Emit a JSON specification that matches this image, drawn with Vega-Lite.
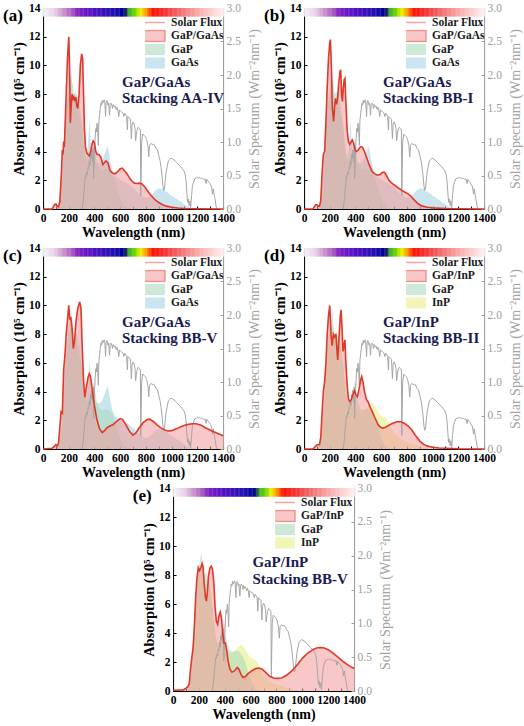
{
"$schema": "https://vega.github.io/schema/vega-lite/v6.json",
"padding": {"left": 2, "top": 1, "right": 0, "bottom": 0},
"config": {
 "font": "Liberation Serif",
 "view": {"stroke": "#c4c4c4"},
 "axis": {"grid": false, "labelFont": "Liberation Serif", "titleFont": "Liberation Serif", "tickSize": -3, "labelPadding": 6, "labelOverlap": false, "labelFlush": false, "domainWidth": 1, "tickWidth": 1},
 "axisBottom": {"domainColor": "#000", "tickColor": "#000", "labelColor": "#000", "labelFontWeight": "bold", "labelFontSize": 11.5, "titleColor": "#000", "titleFontWeight": "bold", "titleFontSize": 14, "titlePadding": 2},
 "axisLeft": {"domainColor": "#000", "tickColor": "#000", "labelColor": "#000", "labelFontWeight": "bold", "labelFontSize": 11.5, "titleColor": "#000", "titleFontWeight": "bold", "titleFontSize": 14.5, "titlePadding": 2},
 "axisRight": {"domainColor": "#9c9c9c", "tickColor": "#9c9c9c", "labelColor": "#9c9c9c", "labelFontWeight": "normal", "labelFontSize": 11.5, "titleColor": "#a3a3a3", "titleFontWeight": "normal", "titleFontSize": 14, "titlePadding": 7, "titleAngle": 270, "titleBaseline": "top"},
 "legend": {"padding": 0, "symbolType": "M-1.9,-0.85H1.9V0.85H-1.9Z", "symbolSize": 169, "clipHeight": 13, "labelFont": "Liberation Serif", "labelFontSize": 11.5, "labelFontWeight": "bold", "labelColor": "#1a1a1a", "rowPadding": 0.5, "labelOffset": 11}
},
"datasets": {
 "solar": [{"w":300,"f":0},{"w":305,"f":0.02},{"w":310,"f":0.08},{"w":315,"f":0.18},{"w":320,"f":0.3},{"w":325,"f":0.4},{"w":330,"f":0.5},{"w":335,"f":0.48},{"w":340,"f":0.55},{"w":345,"f":0.52},{"w":350,"f":0.62},{"w":355,"f":0.6},{"w":360,"f":0.72},{"w":365,"f":0.65},{"w":370,"f":0.82},{"w":375,"f":0.75},{"w":380,"f":0.88},{"w":385,"f":0.7},{"w":390,"f":0.92},{"w":393,"f":0.45},{"w":396,"f":0.6},{"w":400,"f":0.85},{"w":405,"f":1.05},{"w":410,"f":1.2},{"w":415,"f":1.15},{"w":420,"f":1.28},{"w":425,"f":1.15},{"w":430,"f":0.95},{"w":434,"f":1.3},{"w":440,"f":1.42},{"w":445,"f":1.5},{"w":450,"f":1.58},{"w":455,"f":1.55},{"w":460,"f":1.62},{"w":465,"f":1.58},{"w":470,"f":1.6},{"w":475,"f":1.63},{"w":480,"f":1.6},{"w":486,"f":1.38},{"w":490,"f":1.58},{"w":495,"f":1.62},{"w":500,"f":1.6},{"w":505,"f":1.55},{"w":510,"f":1.58},{"w":517,"f":1.4},{"w":522,"f":1.56},{"w":528,"f":1.58},{"w":535,"f":1.55},{"w":540,"f":1.5},{"w":545,"f":1.56},{"w":550,"f":1.54},{"w":555,"f":1.52},{"w":560,"f":1.54},{"w":570,"f":1.48},{"w":575,"f":1.52},{"w":580,"f":1.5},{"w":589,"f":1.38},{"w":595,"f":1.48},{"w":600,"f":1.47},{"w":610,"f":1.45},{"w":620,"f":1.44},{"w":628,"f":1.38},{"w":635,"f":1.43},{"w":645,"f":1.4},{"w":650,"f":1.38},{"w":656,"f":1.18},{"w":660,"f":1.38},{"w":670,"f":1.36},{"w":680,"f":1.34},{"w":687,"f":1.05},{"w":692,"f":1.25},{"w":700,"f":1.3},{"w":708,"f":1.27},{"w":715,"f":1.2},{"w":720,"f":1.02},{"w":726,"f":1.12},{"w":732,"f":1.18},{"w":740,"f":1.22},{"w":750,"f":1.2},{"w":757,"f":1.18},{"w":760,"f":0.2},{"w":763,"f":0.55},{"w":767,"f":1.0},{"w":775,"f":1.12},{"w":785,"f":1.1},{"w":795,"f":1.08},{"w":805,"f":1.04},{"w":815,"f":0.95},{"w":822,"f":0.78},{"w":828,"f":0.95},{"w":840,"f":0.98},{"w":850,"f":0.96},{"w":860,"f":0.97},{"w":870,"f":0.94},{"w":880,"f":0.9},{"w":890,"f":0.88},{"w":900,"f":0.8},{"w":910,"f":0.72},{"w":918,"f":0.62},{"w":925,"f":0.5},{"w":932,"f":0.35},{"w":938,"f":0.28},{"w":944,"f":0.3},{"w":950,"f":0.42},{"w":957,"f":0.55},{"w":965,"f":0.63},{"w":975,"f":0.72},{"w":985,"f":0.74},{"w":995,"f":0.76},{"w":1005,"f":0.75},{"w":1020,"f":0.73},{"w":1035,"f":0.7},{"w":1050,"f":0.67},{"w":1065,"f":0.64},{"w":1080,"f":0.61},{"w":1095,"f":0.57},{"w":1105,"f":0.52},{"w":1112,"f":0.42},{"w":1118,"f":0.25},{"w":1124,"f":0.1},{"w":1130,"f":0.15},{"w":1136,"f":0.05},{"w":1142,"f":0.12},{"w":1148,"f":0.02},{"w":1155,"f":0.2},{"w":1162,"f":0.35},{"w":1170,"f":0.4},{"w":1180,"f":0.45},{"w":1190,"f":0.46},{"w":1200,"f":0.47},{"w":1210,"f":0.46},{"w":1220,"f":0.47},{"w":1230,"f":0.45},{"w":1240,"f":0.46},{"w":1250,"f":0.44},{"w":1260,"f":0.45},{"w":1268,"f":0.38},{"w":1274,"f":0.44},{"w":1280,"f":0.42},{"w":1290,"f":0.4},{"w":1300,"f":0.37},{"w":1310,"f":0.33},{"w":1318,"f":0.22},{"w":1324,"f":0.3},{"w":1332,"f":0.2},{"w":1340,"f":0.12},{"w":1346,"f":0.04},{"w":1352,"f":0}],
 "rainbow": [{"w":0},{"w":10},{"w":20},{"w":30},{"w":40},{"w":50},{"w":60},{"w":70},{"w":80},{"w":90},{"w":100},{"w":110},{"w":120},{"w":130},{"w":140},{"w":150},{"w":160},{"w":170},{"w":180},{"w":190},{"w":200},{"w":210},{"w":220},{"w":230},{"w":240},{"w":250},{"w":260},{"w":270},{"w":280},{"w":290},{"w":300},{"w":310},{"w":320},{"w":330},{"w":340},{"w":350},{"w":360},{"w":370},{"w":380},{"w":390},{"w":400},{"w":410},{"w":420},{"w":430},{"w":440},{"w":450},{"w":460},{"w":470},{"w":480},{"w":490},{"w":500},{"w":510},{"w":520},{"w":530},{"w":540},{"w":550},{"w":560},{"w":570},{"w":580},{"w":590},{"w":600},{"w":610},{"w":620},{"w":630},{"w":640},{"w":650},{"w":660},{"w":670},{"w":680},{"w":690},{"w":700},{"w":710},{"w":720},{"w":730},{"w":740},{"w":750},{"w":760},{"w":770},{"w":780},{"w":790},{"w":800},{"w":810},{"w":820},{"w":830},{"w":840},{"w":850},{"w":860},{"w":870},{"w":880},{"w":890},{"w":900},{"w":910},{"w":920},{"w":930},{"w":940},{"w":950},{"w":960},{"w":970},{"w":980},{"w":990},{"w":1000},{"w":1010},{"w":1020},{"w":1030},{"w":1040},{"w":1050},{"w":1060},{"w":1070},{"w":1080},{"w":1090},{"w":1100},{"w":1110},{"w":1120},{"w":1130},{"w":1140},{"w":1150},{"w":1160},{"w":1170},{"w":1180},{"w":1190},{"w":1200},{"w":1210},{"w":1220},{"w":1230},{"w":1240},{"w":1250},{"w":1260},{"w":1270},{"w":1280},{"w":1290},{"w":1300},{"w":1310},{"w":1320},{"w":1330},{"w":1340},{"w":1350},{"w":1360},{"w":1370},{"w":1380},{"w":1390},{"w":1400}],
 "gap": [{"w":0,"a":0},{"w":110,"a":0},{"w":125,"a":0.4},{"w":140,"a":1.5},{"w":155,"a":3.2},{"w":170,"a":5.5},{"w":185,"a":7.3},{"w":200,"a":8.5},{"w":212,"a":9.2},{"w":220,"a":9.6},{"w":228,"a":8.8},{"w":240,"a":8.0},{"w":255,"a":8.2},{"w":270,"a":7.8},{"w":285,"a":7.2},{"w":300,"a":6.2},{"w":315,"a":4.8},{"w":330,"a":3.6},{"w":345,"a":3.3},{"w":360,"a":3.5},{"w":375,"a":3.9},{"w":390,"a":4.5},{"w":398,"a":4.7},{"w":406,"a":4.0},{"w":420,"a":3.2},{"w":440,"a":2.8},{"w":460,"a":2.7},{"w":490,"a":2.8},{"w":515,"a":2.7},{"w":540,"a":2.4},{"w":565,"a":1.8},{"w":590,"a":1.0},{"w":615,"a":0.45},{"w":640,"a":0.15},{"w":670,"a":0.03},{"w":700,"a":0},{"w":1400,"a":0}],
 "gaas": [{"w":0,"a":0},{"w":110,"a":0},{"w":125,"a":0.3},{"w":140,"a":1.2},{"w":155,"a":3.0},{"w":170,"a":5.5},{"w":185,"a":7.2},{"w":200,"a":8.0},{"w":212,"a":8.8},{"w":222,"a":9.2},{"w":230,"a":8.2},{"w":245,"a":7.6},{"w":260,"a":7.4},{"w":275,"a":6.8},{"w":290,"a":6.3},{"w":305,"a":5.8},{"w":320,"a":4.3},{"w":335,"a":3.5},{"w":348,"a":4.2},{"w":356,"a":5.5},{"w":362,"a":6.3},{"w":368,"a":5.0},{"w":378,"a":3.9},{"w":395,"a":3.5},{"w":420,"a":3.2},{"w":445,"a":3.2},{"w":465,"a":3.5},{"w":482,"a":3.9},{"w":498,"a":4.35},{"w":510,"a":4.1},{"w":522,"a":3.4},{"w":540,"a":2.7},{"w":560,"a":2.3},{"w":590,"a":2.1},{"w":630,"a":1.9},{"w":670,"a":1.7},{"w":710,"a":1.4},{"w":750,"a":1.05},{"w":790,"a":0.8},{"w":820,"a":0.8},{"w":850,"a":1.05},{"w":880,"a":1.32},{"w":905,"a":1.45},{"w":930,"a":1.4},{"w":960,"a":1.2},{"w":990,"a":1.0},{"w":1030,"a":0.75},{"w":1070,"a":0.5},{"w":1110,"a":0.25},{"w":1150,"a":0.08},{"w":1190,"a":0},{"w":1400,"a":0}],
 "inp": [{"w":0,"a":0},{"w":110,"a":0},{"w":125,"a":0.4},{"w":140,"a":1.6},{"w":155,"a":3.5},{"w":170,"a":5.8},{"w":185,"a":7.4},{"w":200,"a":8.3},{"w":215,"a":8.6},{"w":230,"a":8.0},{"w":245,"a":7.6},{"w":260,"a":7.7},{"w":275,"a":7.6},{"w":290,"a":7.0},{"w":305,"a":6.0},{"w":320,"a":4.6},{"w":335,"a":3.6},{"w":350,"a":3.2},{"w":370,"a":3.0},{"w":390,"a":2.9},{"w":410,"a":2.8},{"w":430,"a":2.7},{"w":450,"a":2.6},{"w":470,"a":2.7},{"w":490,"a":2.9},{"w":510,"a":3.1},{"w":530,"a":3.2},{"w":550,"a":3.0},{"w":570,"a":2.7},{"w":590,"a":2.4},{"w":610,"a":2.25},{"w":630,"a":2.2},{"w":650,"a":2.0},{"w":670,"a":1.6},{"w":700,"a":1.1},{"w":740,"a":0.75},{"w":780,"a":0.55},{"w":820,"a":0.42},{"w":860,"a":0.3},{"w":900,"a":0.18},{"w":940,"a":0.08},{"w":980,"a":0.02},{"w":1020,"a":0},{"w":1400,"a":0}],
 "pa": [{"w":0,"a":0},{"w":70,"a":0},{"w":80,"a":0.15},{"w":90,"a":0.3},{"w":100,"a":0.35},{"w":110,"a":0.2},{"w":120,"a":0.15},{"w":130,"a":0.5},{"w":140,"a":2.0},{"w":145,"a":3.0},{"w":150,"a":4.1},{"w":155,"a":3.8},{"w":160,"a":4.7},{"w":165,"a":4.3},{"w":170,"a":5.5},{"w":180,"a":8.0},{"w":190,"a":10.5},{"w":200,"a":12.0},{"w":206,"a":10.0},{"w":212,"a":6.0},{"w":218,"a":7.0},{"w":225,"a":8.0},{"w":232,"a":7.6},{"w":240,"a":7.8},{"w":248,"a":7.5},{"w":255,"a":7.8},{"w":262,"a":7.2},{"w":270,"a":7.0},{"w":280,"a":8.0},{"w":290,"a":10.0},{"w":300,"a":10.8},{"w":308,"a":10.5},{"w":315,"a":8.0},{"w":322,"a":5.5},{"w":330,"a":4.3},{"w":340,"a":3.9},{"w":350,"a":3.8},{"w":360,"a":3.7},{"w":370,"a":4.0},{"w":380,"a":4.5},{"w":390,"a":4.75},{"w":400,"a":4.6},{"w":410,"a":4.0},{"w":420,"a":3.8},{"w":435,"a":3.8},{"w":450,"a":3.6},{"w":465,"a":3.1},{"w":475,"a":3.2},{"w":490,"a":3.35},{"w":505,"a":3.2},{"w":520,"a":2.7},{"w":540,"a":2.5},{"w":560,"a":2.45},{"w":580,"a":2.6},{"w":600,"a":2.8},{"w":615,"a":2.85},{"w":630,"a":2.7},{"w":650,"a":2.5},{"w":670,"a":2.2},{"w":690,"a":1.95},{"w":710,"a":1.8},{"w":730,"a":1.78},{"w":750,"a":1.8},{"w":770,"a":1.75},{"w":790,"a":1.55},{"w":810,"a":1.3},{"w":830,"a":1.05},{"w":850,"a":0.85},{"w":870,"a":0.65},{"w":900,"a":0.45},{"w":930,"a":0.3},{"w":960,"a":0.2},{"w":1000,"a":0.12},{"w":1050,"a":0.07},{"w":1100,"a":0.04},{"w":1200,"a":0.02},{"w":1400,"a":0}],
 "pb": [{"w":0,"a":0},{"w":70,"a":0},{"w":80,"a":0.15},{"w":90,"a":0.3},{"w":100,"a":0.3},{"w":110,"a":0.2},{"w":120,"a":0.2},{"w":130,"a":0.6},{"w":140,"a":2.5},{"w":150,"a":3.8},{"w":160,"a":4.0},{"w":170,"a":6.0},{"w":180,"a":8.5},{"w":190,"a":10.5},{"w":200,"a":11.6},{"w":205,"a":11.8},{"w":212,"a":10.0},{"w":220,"a":7.0},{"w":230,"a":6.1},{"w":238,"a":7.2},{"w":245,"a":7.7},{"w":252,"a":7.3},{"w":260,"a":7.6},{"w":270,"a":8.8},{"w":280,"a":9.6},{"w":285,"a":9.7},{"w":292,"a":8.0},{"w":298,"a":7.5},{"w":305,"a":8.4},{"w":312,"a":9.0},{"w":318,"a":9.1},{"w":325,"a":7.5},{"w":335,"a":5.5},{"w":345,"a":4.7},{"w":355,"a":4.5},{"w":365,"a":4.65},{"w":375,"a":4.8},{"w":385,"a":4.6},{"w":395,"a":4.2},{"w":405,"a":4.0},{"w":420,"a":4.1},{"w":435,"a":4.3},{"w":445,"a":4.35},{"w":455,"a":4.3},{"w":470,"a":4.0},{"w":490,"a":3.5},{"w":510,"a":3.0},{"w":530,"a":2.6},{"w":550,"a":2.45},{"w":570,"a":2.35},{"w":590,"a":2.4},{"w":610,"a":2.55},{"w":625,"a":2.55},{"w":640,"a":2.35},{"w":660,"a":2.0},{"w":690,"a":1.75},{"w":720,"a":1.55},{"w":760,"a":1.3},{"w":800,"a":1.1},{"w":830,"a":0.9},{"w":860,"a":0.6},{"w":890,"a":0.35},{"w":920,"a":0.2},{"w":960,"a":0.12},{"w":1000,"a":0.08},{"w":1100,"a":0.04},{"w":1200,"a":0.02},{"w":1400,"a":0}],
 "pc": [{"w":0,"a":0},{"w":70,"a":0.05},{"w":90,"a":0.2},{"w":100,"a":0.3},{"w":110,"a":0.2},{"w":120,"a":0.4},{"w":130,"a":1.5},{"w":140,"a":2.6},{"w":150,"a":2.5},{"w":160,"a":5.5},{"w":170,"a":6.5},{"w":180,"a":8.0},{"w":190,"a":9.0},{"w":200,"a":10.0},{"w":208,"a":9.0},{"w":215,"a":9.2},{"w":225,"a":8.5},{"w":235,"a":7.0},{"w":245,"a":7.5},{"w":255,"a":8.8},{"w":270,"a":9.8},{"w":285,"a":10.25},{"w":295,"a":9.8},{"w":305,"a":7.0},{"w":315,"a":4.8},{"w":325,"a":3.6},{"w":335,"a":4.2},{"w":350,"a":5.0},{"w":360,"a":5.25},{"w":370,"a":5.0},{"w":385,"a":4.0},{"w":400,"a":3.0},{"w":420,"a":2.0},{"w":440,"a":1.4},{"w":460,"a":1.15},{"w":480,"a":1.3},{"w":500,"a":1.5},{"w":520,"a":1.6},{"w":545,"a":1.7},{"w":570,"a":1.9},{"w":600,"a":2.12},{"w":620,"a":2.05},{"w":650,"a":1.6},{"w":675,"a":1.2},{"w":700,"a":0.97},{"w":720,"a":1.1},{"w":750,"a":1.5},{"w":780,"a":1.85},{"w":810,"a":2.05},{"w":830,"a":2.08},{"w":860,"a":1.9},{"w":890,"a":1.65},{"w":920,"a":1.45},{"w":950,"a":1.3},{"w":975,"a":1.25},{"w":1000,"a":1.28},{"w":1040,"a":1.42},{"w":1080,"a":1.58},{"w":1120,"a":1.7},{"w":1160,"a":1.76},{"w":1190,"a":1.76},{"w":1230,"a":1.65},{"w":1270,"a":1.45},{"w":1310,"a":1.27},{"w":1350,"a":1.12},{"w":1400,"a":0.93}],
 "pd": [{"w":0,"a":0},{"w":70,"a":0},{"w":80,"a":0.1},{"w":100,"a":0.3},{"w":120,"a":0.3},{"w":130,"a":0.8},{"w":140,"a":2.5},{"w":150,"a":4.0},{"w":160,"a":4.7},{"w":170,"a":6.0},{"w":180,"a":8.0},{"w":190,"a":9.3},{"w":200,"a":10.0},{"w":210,"a":8.0},{"w":218,"a":7.2},{"w":228,"a":8.0},{"w":238,"a":7.8},{"w":248,"a":8.0},{"w":255,"a":7.0},{"w":262,"a":6.2},{"w":272,"a":7.8},{"w":282,"a":9.3},{"w":288,"a":9.7},{"w":295,"a":8.5},{"w":303,"a":6.8},{"w":310,"a":7.2},{"w":318,"a":7.6},{"w":325,"a":6.0},{"w":335,"a":4.5},{"w":345,"a":3.5},{"w":355,"a":3.3},{"w":365,"a":3.4},{"w":380,"a":3.8},{"w":392,"a":4.05},{"w":402,"a":3.8},{"w":415,"a":3.65},{"w":428,"a":4.2},{"w":440,"a":4.8},{"w":448,"a":5.05},{"w":458,"a":4.7},{"w":470,"a":4.0},{"w":485,"a":3.45},{"w":500,"a":3.25},{"w":515,"a":2.9},{"w":530,"a":2.6},{"w":545,"a":2.3},{"w":560,"a":2.0},{"w":575,"a":1.7},{"w":590,"a":1.55},{"w":610,"a":1.45},{"w":630,"a":1.5},{"w":660,"a":1.65},{"w":690,"a":1.8},{"w":720,"a":1.9},{"w":750,"a":1.9},{"w":780,"a":1.8},{"w":810,"a":1.6},{"w":840,"a":1.3},{"w":870,"a":0.9},{"w":900,"a":0.55},{"w":930,"a":0.32},{"w":960,"a":0.2},{"w":1000,"a":0.12},{"w":1050,"a":0.07},{"w":1100,"a":0.05},{"w":1200,"a":0.02},{"w":1400,"a":0}],
 "pe": [{"w":0,"a":0.05},{"w":80,"a":0.08},{"w":100,"a":0.2},{"w":115,"a":0.3},{"w":125,"a":0.5},{"w":135,"a":1.5},{"w":145,"a":2.3},{"w":155,"a":3.0},{"w":165,"a":4.5},{"w":175,"a":6.5},{"w":185,"a":7.8},{"w":195,"a":8.5},{"w":205,"a":8.3},{"w":215,"a":8.5},{"w":225,"a":8.8},{"w":232,"a":8.6},{"w":240,"a":7.5},{"w":250,"a":6.5},{"w":258,"a":6.2},{"w":265,"a":6.8},{"w":275,"a":8.0},{"w":285,"a":8.5},{"w":295,"a":8.6},{"w":305,"a":8.4},{"w":315,"a":7.5},{"w":325,"a":5.8},{"w":335,"a":4.8},{"w":345,"a":4.6},{"w":355,"a":5.2},{"w":365,"a":5.45},{"w":375,"a":5.0},{"w":385,"a":3.9},{"w":395,"a":3.3},{"w":405,"a":3.3},{"w":415,"a":2.8},{"w":425,"a":2.1},{"w":440,"a":1.5},{"w":455,"a":1.3},{"w":470,"a":1.35},{"w":485,"a":1.5},{"w":497,"a":1.62},{"w":510,"a":1.5},{"w":525,"a":1.15},{"w":540,"a":0.95},{"w":560,"a":1.0},{"w":580,"a":1.2},{"w":610,"a":1.4},{"w":640,"a":1.55},{"w":665,"a":1.58},{"w":690,"a":1.5},{"w":720,"a":1.25},{"w":750,"a":1.0},{"w":780,"a":0.9},{"w":810,"a":0.87},{"w":840,"a":0.9},{"w":880,"a":1.1},{"w":920,"a":1.4},{"w":960,"a":1.8},{"w":1000,"a":2.25},{"w":1040,"a":2.6},{"w":1080,"a":2.85},{"w":1110,"a":2.97},{"w":1140,"a":3.0},{"w":1170,"a":2.97},{"w":1200,"a":2.85},{"w":1240,"a":2.6},{"w":1280,"a":2.3},{"w":1320,"a":2.0},{"w":1360,"a":1.75},{"w":1400,"a":1.55}]
},
"vconcat": [
 {"hconcat": [
  {"width": 180, "height": 201,
   "layer": [
    {"layer": [
     {"data": {"name": "gaas"}, "mark": {"type": "area", "opacity": 0.55}, "encoding": {
       "x": {"field": "w", "type": "quantitative", "scale": {"domain": [0,1400], "nice": false}, "axis": {"values": [0,100,200,300,400,500,600,700,800,900,1000,1100,1200,1300,1400], "format": "d", "labelOverlap": false, "labelExpr": "datum.value % 200 === 0 ? datum.label : ''"}, "title": "Wavelength (nm)"},
       "y": {"field": "a", "type": "quantitative", "scale": {"domain": [0,14], "nice": false}, "axis": {"orient": "left", "values": [0,2,4,6,8,10,12,14], "labelOverlap": false}, "title": "Absorption  (10⁵ cm⁻¹)"},
       "fill": {"datum": "GaAs", "type": "nominal", "scale": {"domain": ["Solar Flux","GaP/GaAs","GaP","GaAs"], "range": ["#ffffff","#f29a9a","#a8d8b8","#9fd0e3"]},
        "legend": {"title": null, "orient": "none", "legendX": 102, "legendY": 8, "encoding": {"symbols": {"shape": {"value": {"expr": "datum.value === 'Solar Flux' ? 'M-1.9,0H1.9' : 'M-1.9,-0.85H1.9V0.85H-1.9Z'"}}, "stroke": {"value": {"expr": "datum.value === 'Solar Flux' ? '#e8574c' : indexof(datum.value, '/') >= 0 ? '#e0392b' : 'transparent'"}}, "strokeWidth": {"value": 1.5}}}}}}},
     {"data": {"name": "gap"}, "mark": {"type": "area", "opacity": 0.55}, "encoding": {
       "x": {"field": "w", "type": "quantitative", "scale": {"domain": [0,1400], "nice": false}, "axis": {"values": [0,100,200,300,400,500,600,700,800,900,1000,1100,1200,1300,1400], "format": "d", "labelOverlap": false, "labelExpr": "datum.value % 200 === 0 ? datum.label : ''"}, "title": "Wavelength (nm)"},
       "y": {"field": "a", "type": "quantitative", "scale": {"domain": [0,14], "nice": false}, "axis": {"orient": "left", "values": [0,2,4,6,8,10,12,14], "labelOverlap": false}, "title": "Absorption  (10⁵ cm⁻¹)"},
       "fill": {"datum": "GaP", "type": "nominal"}}},
     {"data": {"name": "pa"}, "mark": {"type": "area", "opacity": 0.55}, "encoding": {
       "x": {"field": "w", "type": "quantitative", "scale": {"domain": [0,1400], "nice": false}, "axis": {"values": [0,100,200,300,400,500,600,700,800,900,1000,1100,1200,1300,1400], "format": "d", "labelOverlap": false, "labelExpr": "datum.value % 200 === 0 ? datum.label : ''"}, "title": "Wavelength (nm)"},
       "y": {"field": "a", "type": "quantitative", "scale": {"domain": [0,14], "nice": false}, "axis": {"orient": "left", "values": [0,2,4,6,8,10,12,14], "labelOverlap": false}, "title": "Absorption  (10⁵ cm⁻¹)"},
       "fill": {"datum": "GaP/GaAs", "type": "nominal"}}}
    ]},
    {"data": {"name": "solar"}, "mark": {"type": "line", "color": "#a6a6a6", "strokeWidth": 1}, "encoding": {
      "x": {"field": "w", "type": "quantitative", "scale": {"domain": [0,1400], "nice": false}, "axis": {"values": [0,100,200,300,400,500,600,700,800,900,1000,1100,1200,1300,1400], "format": "d", "labelOverlap": false, "labelExpr": "datum.value % 200 === 0 ? datum.label : ''"}, "title": "Wavelength (nm)"},
      "y": {"field": "f", "type": "quantitative", "scale": {"domain": [0,3], "nice": false}, "axis": {"orient": "right", "values": [0,0.5,1,1.5,2,2.5,3], "format": ".1f", "labelOverlap": false}, "title": "Solar Spectrum (Wm⁻²nm⁻¹)"}}},
    {"layer": [
     {"data": {"name": "pa"}, "mark": {"type": "line", "color": "#e0392b", "strokeWidth": 1.6}, "encoding": {
       "x": {"field": "w", "type": "quantitative", "scale": {"domain": [0,1400], "nice": false}, "axis": {"values": [0,100,200,300,400,500,600,700,800,900,1000,1100,1200,1300,1400], "format": "d", "labelOverlap": false, "labelExpr": "datum.value % 200 === 0 ? datum.label : ''"}, "title": "Wavelength (nm)"},
       "y": {"field": "a", "type": "quantitative", "scale": {"domain": [0,14], "nice": false}, "axis": null}}},
     {"data": {"name": "rainbow"}, "mark": {"type": "rule", "strokeWidth": 1.6}, "encoding": {
       "x": {"field": "w", "type": "quantitative", "scale": {"domain": [0,1400], "nice": false}, "axis": {"values": [0,100,200,300,400,500,600,700,800,900,1000,1100,1200,1300,1400], "format": "d", "labelOverlap": false, "labelExpr": "datum.value % 200 === 0 ? datum.label : ''"}, "title": "Wavelength (nm)"},
       "y": {"datum": 13.4, "type": "quantitative", "axis": null},
       "y2": {"datum": 14},
       "color": {"field": "w", "type": "quantitative", "legend": null, "scale": {"domain": [0,90,142,219,271,400,554,619,645,670,709,760,807,851,941,1070,1199,1400], "range": ["#f8f4f8","#e8d0e8","#d0a0d0","#b060c0","#8020c0","#5010c8","#2010b0","#0000a0","#102050","#40b030","#60d000","#f0f000","#ff9000","#ff1000","#f83030","#f07070","#f8a8a8","#fff0f0"], "interpolate": "rgb"}}}},
     {"data": {"values": [{}]}, "mark": {"type": "text", "text": ["GaP/GaAs","Stacking AA-IV"], "font": "Liberation Serif", "fontSize": 15, "fontWeight": "bold", "color": "#1b1b50", "align": "left", "baseline": "top", "lineHeight": 16.5}, "encoding": {
       "x": {"datum": 614, "type": "quantitative", "scale": {"domain": [0,1400], "nice": false}, "axis": {"values": [0,100,200,300,400,500,600,700,800,900,1000,1100,1200,1300,1400], "format": "d", "labelOverlap": false, "labelExpr": "datum.value % 200 === 0 ? datum.label : ''"}, "title": "Wavelength (nm)"}, "y": {"datum": 9.35, "type": "quantitative", "axis": null}}},
     {"data": {"values": [{}]}, "mark": {"type": "text", "text": "(a)", "font": "Liberation Serif", "fontSize": 17, "fontWeight": "bold", "color": "#000", "align": "left", "baseline": "middle"}, "encoding": {
       "x": {"datum": -311, "type": "quantitative", "scale": {"domain": [0,1400], "nice": false}, "axis": {"values": [0,100,200,300,400,500,600,700,800,900,1000,1100,1200,1300,1400], "format": "d", "labelOverlap": false, "labelExpr": "datum.value % 200 === 0 ? datum.label : ''"}, "title": "Wavelength (nm)"}, "y": {"datum": 13.42, "type": "quantitative", "axis": null}}}
    ]}
   ],
   "resolve": {"scale": {"y": "independent"}}},
  {"width": 180, "height": 201,
   "layer": [
    {"layer": [
     {"data": {"name": "gaas"}, "mark": {"type": "area", "opacity": 0.55}, "encoding": {
       "x": {"field": "w", "type": "quantitative", "scale": {"domain": [0,1400], "nice": false}, "axis": {"values": [0,100,200,300,400,500,600,700,800,900,1000,1100,1200,1300,1400], "format": "d", "labelOverlap": false, "labelExpr": "datum.value % 200 === 0 ? datum.label : ''"}, "title": "Wavelength (nm)"},
       "y": {"field": "a", "type": "quantitative", "scale": {"domain": [0,14], "nice": false}, "axis": {"orient": "left", "values": [0,2,4,6,8,10,12,14], "labelOverlap": false}, "title": "Absorption  (10⁵ cm⁻¹)"},
       "fill": {"datum": "GaAs", "type": "nominal", "scale": {"domain": ["Solar Flux","GaP/GaAs","GaP","GaAs"], "range": ["#ffffff","#f29a9a","#a8d8b8","#9fd0e3"]},
        "legend": {"title": null, "orient": "none", "legendX": 102, "legendY": 8, "encoding": {"symbols": {"shape": {"value": {"expr": "datum.value === 'Solar Flux' ? 'M-1.9,0H1.9' : 'M-1.9,-0.85H1.9V0.85H-1.9Z'"}}, "stroke": {"value": {"expr": "datum.value === 'Solar Flux' ? '#e8574c' : indexof(datum.value, '/') >= 0 ? '#e0392b' : 'transparent'"}}, "strokeWidth": {"value": 1.5}}}}}}},
     {"data": {"name": "gap"}, "mark": {"type": "area", "opacity": 0.55}, "encoding": {
       "x": {"field": "w", "type": "quantitative", "scale": {"domain": [0,1400], "nice": false}, "axis": {"values": [0,100,200,300,400,500,600,700,800,900,1000,1100,1200,1300,1400], "format": "d", "labelOverlap": false, "labelExpr": "datum.value % 200 === 0 ? datum.label : ''"}, "title": "Wavelength (nm)"},
       "y": {"field": "a", "type": "quantitative", "scale": {"domain": [0,14], "nice": false}, "axis": {"orient": "left", "values": [0,2,4,6,8,10,12,14], "labelOverlap": false}, "title": "Absorption  (10⁵ cm⁻¹)"},
       "fill": {"datum": "GaP", "type": "nominal"}}},
     {"data": {"name": "pb"}, "mark": {"type": "area", "opacity": 0.55}, "encoding": {
       "x": {"field": "w", "type": "quantitative", "scale": {"domain": [0,1400], "nice": false}, "axis": {"values": [0,100,200,300,400,500,600,700,800,900,1000,1100,1200,1300,1400], "format": "d", "labelOverlap": false, "labelExpr": "datum.value % 200 === 0 ? datum.label : ''"}, "title": "Wavelength (nm)"},
       "y": {"field": "a", "type": "quantitative", "scale": {"domain": [0,14], "nice": false}, "axis": {"orient": "left", "values": [0,2,4,6,8,10,12,14], "labelOverlap": false}, "title": "Absorption  (10⁵ cm⁻¹)"},
       "fill": {"datum": "GaP/GaAs", "type": "nominal"}}}
    ]},
    {"data": {"name": "solar"}, "mark": {"type": "line", "color": "#a6a6a6", "strokeWidth": 1}, "encoding": {
      "x": {"field": "w", "type": "quantitative", "scale": {"domain": [0,1400], "nice": false}, "axis": {"values": [0,100,200,300,400,500,600,700,800,900,1000,1100,1200,1300,1400], "format": "d", "labelOverlap": false, "labelExpr": "datum.value % 200 === 0 ? datum.label : ''"}, "title": "Wavelength (nm)"},
      "y": {"field": "f", "type": "quantitative", "scale": {"domain": [0,3], "nice": false}, "axis": {"orient": "right", "values": [0,0.5,1,1.5,2,2.5,3], "format": ".1f", "labelOverlap": false}, "title": "Solar Spectrum (Wm⁻²nm⁻¹)"}}},
    {"layer": [
     {"data": {"name": "pb"}, "mark": {"type": "line", "color": "#e0392b", "strokeWidth": 1.6}, "encoding": {
       "x": {"field": "w", "type": "quantitative", "scale": {"domain": [0,1400], "nice": false}, "axis": {"values": [0,100,200,300,400,500,600,700,800,900,1000,1100,1200,1300,1400], "format": "d", "labelOverlap": false, "labelExpr": "datum.value % 200 === 0 ? datum.label : ''"}, "title": "Wavelength (nm)"},
       "y": {"field": "a", "type": "quantitative", "scale": {"domain": [0,14], "nice": false}, "axis": null}}},
     {"data": {"name": "rainbow"}, "mark": {"type": "rule", "strokeWidth": 1.6}, "encoding": {
       "x": {"field": "w", "type": "quantitative", "scale": {"domain": [0,1400], "nice": false}, "axis": {"values": [0,100,200,300,400,500,600,700,800,900,1000,1100,1200,1300,1400], "format": "d", "labelOverlap": false, "labelExpr": "datum.value % 200 === 0 ? datum.label : ''"}, "title": "Wavelength (nm)"},
       "y": {"datum": 13.4, "type": "quantitative", "axis": null},
       "y2": {"datum": 14},
       "color": {"field": "w", "type": "quantitative", "legend": null, "scale": {"domain": [0,90,142,219,271,400,554,619,645,670,709,760,807,851,941,1070,1199,1400], "range": ["#f8f4f8","#e8d0e8","#d0a0d0","#b060c0","#8020c0","#5010c8","#2010b0","#0000a0","#102050","#40b030","#60d000","#f0f000","#ff9000","#ff1000","#f83030","#f07070","#f8a8a8","#fff0f0"], "interpolate": "rgb"}}}},
     {"data": {"values": [{}]}, "mark": {"type": "text", "text": ["GaP/GaAs","Stacking BB-I"], "font": "Liberation Serif", "fontSize": 15, "fontWeight": "bold", "color": "#1b1b50", "align": "left", "baseline": "top", "lineHeight": 16.5}, "encoding": {
       "x": {"datum": 614, "type": "quantitative", "scale": {"domain": [0,1400], "nice": false}, "axis": {"values": [0,100,200,300,400,500,600,700,800,900,1000,1100,1200,1300,1400], "format": "d", "labelOverlap": false, "labelExpr": "datum.value % 200 === 0 ? datum.label : ''"}, "title": "Wavelength (nm)"}, "y": {"datum": 9.35, "type": "quantitative", "axis": null}}},
     {"data": {"values": [{}]}, "mark": {"type": "text", "text": "(b)", "font": "Liberation Serif", "fontSize": 17, "fontWeight": "bold", "color": "#000", "align": "left", "baseline": "middle"}, "encoding": {
       "x": {"datum": -311, "type": "quantitative", "scale": {"domain": [0,1400], "nice": false}, "axis": {"values": [0,100,200,300,400,500,600,700,800,900,1000,1100,1200,1300,1400], "format": "d", "labelOverlap": false, "labelExpr": "datum.value % 200 === 0 ? datum.label : ''"}, "title": "Wavelength (nm)"}, "y": {"datum": 13.42, "type": "quantitative", "axis": null}}}
    ]}
   ],
   "resolve": {"scale": {"y": "independent"}}}
 ], "spacing": 1, "resolve": {"scale": {"fill": "independent"}, "legend": {"fill": "independent"}}},
 {"hconcat": [
  {"width": 180, "height": 201,
   "layer": [
    {"layer": [
     {"data": {"name": "gaas"}, "mark": {"type": "area", "opacity": 0.55}, "encoding": {
       "x": {"field": "w", "type": "quantitative", "scale": {"domain": [0,1400], "nice": false}, "axis": {"values": [0,100,200,300,400,500,600,700,800,900,1000,1100,1200,1300,1400], "format": "d", "labelOverlap": false, "labelExpr": "datum.value % 200 === 0 ? datum.label : ''"}, "title": "Wavelength (nm)"},
       "y": {"field": "a", "type": "quantitative", "scale": {"domain": [0,14], "nice": false}, "axis": {"orient": "left", "values": [0,2,4,6,8,10,12,14], "labelOverlap": false}, "title": "Absorption  (10⁵ cm⁻¹)"},
       "fill": {"datum": "GaAs", "type": "nominal", "scale": {"domain": ["Solar Flux","GaP/GaAs","GaP","GaAs"], "range": ["#ffffff","#f29a9a","#a8d8b8","#9fd0e3"]},
        "legend": {"title": null, "orient": "none", "legendX": 102, "legendY": 8, "encoding": {"symbols": {"shape": {"value": {"expr": "datum.value === 'Solar Flux' ? 'M-1.9,0H1.9' : 'M-1.9,-0.85H1.9V0.85H-1.9Z'"}}, "stroke": {"value": {"expr": "datum.value === 'Solar Flux' ? '#e8574c' : indexof(datum.value, '/') >= 0 ? '#e0392b' : 'transparent'"}}, "strokeWidth": {"value": 1.5}}}}}}},
     {"data": {"name": "gap"}, "mark": {"type": "area", "opacity": 0.55}, "encoding": {
       "x": {"field": "w", "type": "quantitative", "scale": {"domain": [0,1400], "nice": false}, "axis": {"values": [0,100,200,300,400,500,600,700,800,900,1000,1100,1200,1300,1400], "format": "d", "labelOverlap": false, "labelExpr": "datum.value % 200 === 0 ? datum.label : ''"}, "title": "Wavelength (nm)"},
       "y": {"field": "a", "type": "quantitative", "scale": {"domain": [0,14], "nice": false}, "axis": {"orient": "left", "values": [0,2,4,6,8,10,12,14], "labelOverlap": false}, "title": "Absorption  (10⁵ cm⁻¹)"},
       "fill": {"datum": "GaP", "type": "nominal"}}},
     {"data": {"name": "pc"}, "mark": {"type": "area", "opacity": 0.55}, "encoding": {
       "x": {"field": "w", "type": "quantitative", "scale": {"domain": [0,1400], "nice": false}, "axis": {"values": [0,100,200,300,400,500,600,700,800,900,1000,1100,1200,1300,1400], "format": "d", "labelOverlap": false, "labelExpr": "datum.value % 200 === 0 ? datum.label : ''"}, "title": "Wavelength (nm)"},
       "y": {"field": "a", "type": "quantitative", "scale": {"domain": [0,14], "nice": false}, "axis": {"orient": "left", "values": [0,2,4,6,8,10,12,14], "labelOverlap": false}, "title": "Absorption  (10⁵ cm⁻¹)"},
       "fill": {"datum": "GaP/GaAs", "type": "nominal"}}}
    ]},
    {"data": {"name": "solar"}, "mark": {"type": "line", "color": "#a6a6a6", "strokeWidth": 1}, "encoding": {
      "x": {"field": "w", "type": "quantitative", "scale": {"domain": [0,1400], "nice": false}, "axis": {"values": [0,100,200,300,400,500,600,700,800,900,1000,1100,1200,1300,1400], "format": "d", "labelOverlap": false, "labelExpr": "datum.value % 200 === 0 ? datum.label : ''"}, "title": "Wavelength (nm)"},
      "y": {"field": "f", "type": "quantitative", "scale": {"domain": [0,3], "nice": false}, "axis": {"orient": "right", "values": [0,0.5,1,1.5,2,2.5,3], "format": ".1f", "labelOverlap": false}, "title": "Solar Spectrum (Wm⁻²nm⁻¹)"}}},
    {"layer": [
     {"data": {"name": "pc"}, "mark": {"type": "line", "color": "#e0392b", "strokeWidth": 1.6}, "encoding": {
       "x": {"field": "w", "type": "quantitative", "scale": {"domain": [0,1400], "nice": false}, "axis": {"values": [0,100,200,300,400,500,600,700,800,900,1000,1100,1200,1300,1400], "format": "d", "labelOverlap": false, "labelExpr": "datum.value % 200 === 0 ? datum.label : ''"}, "title": "Wavelength (nm)"},
       "y": {"field": "a", "type": "quantitative", "scale": {"domain": [0,14], "nice": false}, "axis": null}}},
     {"data": {"name": "rainbow"}, "mark": {"type": "rule", "strokeWidth": 1.6}, "encoding": {
       "x": {"field": "w", "type": "quantitative", "scale": {"domain": [0,1400], "nice": false}, "axis": {"values": [0,100,200,300,400,500,600,700,800,900,1000,1100,1200,1300,1400], "format": "d", "labelOverlap": false, "labelExpr": "datum.value % 200 === 0 ? datum.label : ''"}, "title": "Wavelength (nm)"},
       "y": {"datum": 13.4, "type": "quantitative", "axis": null},
       "y2": {"datum": 14},
       "color": {"field": "w", "type": "quantitative", "legend": null, "scale": {"domain": [0,90,142,219,271,400,554,619,645,670,709,760,807,851,941,1070,1199,1400], "range": ["#f8f4f8","#e8d0e8","#d0a0d0","#b060c0","#8020c0","#5010c8","#2010b0","#0000a0","#102050","#40b030","#60d000","#f0f000","#ff9000","#ff1000","#f83030","#f07070","#f8a8a8","#fff0f0"], "interpolate": "rgb"}}}},
     {"data": {"values": [{}]}, "mark": {"type": "text", "text": ["GaP/GaAs","Stacking BB-V"], "font": "Liberation Serif", "fontSize": 15, "fontWeight": "bold", "color": "#1b1b50", "align": "left", "baseline": "top", "lineHeight": 16.5}, "encoding": {
       "x": {"datum": 614, "type": "quantitative", "scale": {"domain": [0,1400], "nice": false}, "axis": {"values": [0,100,200,300,400,500,600,700,800,900,1000,1100,1200,1300,1400], "format": "d", "labelOverlap": false, "labelExpr": "datum.value % 200 === 0 ? datum.label : ''"}, "title": "Wavelength (nm)"}, "y": {"datum": 9.35, "type": "quantitative", "axis": null}}},
     {"data": {"values": [{}]}, "mark": {"type": "text", "text": "(c)", "font": "Liberation Serif", "fontSize": 17, "fontWeight": "bold", "color": "#000", "align": "left", "baseline": "middle"}, "encoding": {
       "x": {"datum": -311, "type": "quantitative", "scale": {"domain": [0,1400], "nice": false}, "axis": {"values": [0,100,200,300,400,500,600,700,800,900,1000,1100,1200,1300,1400], "format": "d", "labelOverlap": false, "labelExpr": "datum.value % 200 === 0 ? datum.label : ''"}, "title": "Wavelength (nm)"}, "y": {"datum": 13.42, "type": "quantitative", "axis": null}}}
    ]}
   ],
   "resolve": {"scale": {"y": "independent"}}},
  {"width": 180, "height": 201,
   "layer": [
    {"layer": [
     {"data": {"name": "inp"}, "mark": {"type": "area", "opacity": 0.55}, "encoding": {
       "x": {"field": "w", "type": "quantitative", "scale": {"domain": [0,1400], "nice": false}, "axis": {"values": [0,100,200,300,400,500,600,700,800,900,1000,1100,1200,1300,1400], "format": "d", "labelOverlap": false, "labelExpr": "datum.value % 200 === 0 ? datum.label : ''"}, "title": "Wavelength (nm)"},
       "y": {"field": "a", "type": "quantitative", "scale": {"domain": [0,14], "nice": false}, "axis": {"orient": "left", "values": [0,2,4,6,8,10,12,14], "labelOverlap": false}, "title": "Absorption  (10⁵ cm⁻¹)"},
       "fill": {"datum": "InP", "type": "nominal", "scale": {"domain": ["Solar Flux","GaP/InP","GaP","InP"], "range": ["#ffffff","#f29a9a","#a8d8b8","#e3ee7e"]},
        "legend": {"title": null, "orient": "none", "legendX": 102, "legendY": 8, "encoding": {"symbols": {"shape": {"value": {"expr": "datum.value === 'Solar Flux' ? 'M-1.9,0H1.9' : 'M-1.9,-0.85H1.9V0.85H-1.9Z'"}}, "stroke": {"value": {"expr": "datum.value === 'Solar Flux' ? '#e8574c' : indexof(datum.value, '/') >= 0 ? '#e0392b' : 'transparent'"}}, "strokeWidth": {"value": 1.5}}}}}}},
     {"data": {"name": "gap"}, "mark": {"type": "area", "opacity": 0.55}, "encoding": {
       "x": {"field": "w", "type": "quantitative", "scale": {"domain": [0,1400], "nice": false}, "axis": {"values": [0,100,200,300,400,500,600,700,800,900,1000,1100,1200,1300,1400], "format": "d", "labelOverlap": false, "labelExpr": "datum.value % 200 === 0 ? datum.label : ''"}, "title": "Wavelength (nm)"},
       "y": {"field": "a", "type": "quantitative", "scale": {"domain": [0,14], "nice": false}, "axis": {"orient": "left", "values": [0,2,4,6,8,10,12,14], "labelOverlap": false}, "title": "Absorption  (10⁵ cm⁻¹)"},
       "fill": {"datum": "GaP", "type": "nominal"}}},
     {"data": {"name": "pd"}, "mark": {"type": "area", "opacity": 0.55}, "encoding": {
       "x": {"field": "w", "type": "quantitative", "scale": {"domain": [0,1400], "nice": false}, "axis": {"values": [0,100,200,300,400,500,600,700,800,900,1000,1100,1200,1300,1400], "format": "d", "labelOverlap": false, "labelExpr": "datum.value % 200 === 0 ? datum.label : ''"}, "title": "Wavelength (nm)"},
       "y": {"field": "a", "type": "quantitative", "scale": {"domain": [0,14], "nice": false}, "axis": {"orient": "left", "values": [0,2,4,6,8,10,12,14], "labelOverlap": false}, "title": "Absorption  (10⁵ cm⁻¹)"},
       "fill": {"datum": "GaP/InP", "type": "nominal"}}}
    ]},
    {"data": {"name": "solar"}, "mark": {"type": "line", "color": "#a6a6a6", "strokeWidth": 1}, "encoding": {
      "x": {"field": "w", "type": "quantitative", "scale": {"domain": [0,1400], "nice": false}, "axis": {"values": [0,100,200,300,400,500,600,700,800,900,1000,1100,1200,1300,1400], "format": "d", "labelOverlap": false, "labelExpr": "datum.value % 200 === 0 ? datum.label : ''"}, "title": "Wavelength (nm)"},
      "y": {"field": "f", "type": "quantitative", "scale": {"domain": [0,3], "nice": false}, "axis": {"orient": "right", "values": [0,0.5,1,1.5,2,2.5,3], "format": ".1f", "labelOverlap": false}, "title": "Solar Spectrum (Wm⁻²nm⁻¹)"}}},
    {"layer": [
     {"data": {"name": "pd"}, "mark": {"type": "line", "color": "#e0392b", "strokeWidth": 1.6}, "encoding": {
       "x": {"field": "w", "type": "quantitative", "scale": {"domain": [0,1400], "nice": false}, "axis": {"values": [0,100,200,300,400,500,600,700,800,900,1000,1100,1200,1300,1400], "format": "d", "labelOverlap": false, "labelExpr": "datum.value % 200 === 0 ? datum.label : ''"}, "title": "Wavelength (nm)"},
       "y": {"field": "a", "type": "quantitative", "scale": {"domain": [0,14], "nice": false}, "axis": null}}},
     {"data": {"name": "rainbow"}, "mark": {"type": "rule", "strokeWidth": 1.6}, "encoding": {
       "x": {"field": "w", "type": "quantitative", "scale": {"domain": [0,1400], "nice": false}, "axis": {"values": [0,100,200,300,400,500,600,700,800,900,1000,1100,1200,1300,1400], "format": "d", "labelOverlap": false, "labelExpr": "datum.value % 200 === 0 ? datum.label : ''"}, "title": "Wavelength (nm)"},
       "y": {"datum": 13.4, "type": "quantitative", "axis": null},
       "y2": {"datum": 14},
       "color": {"field": "w", "type": "quantitative", "legend": null, "scale": {"domain": [0,90,142,219,271,400,554,619,645,670,709,760,807,851,941,1070,1199,1400], "range": ["#f8f4f8","#e8d0e8","#d0a0d0","#b060c0","#8020c0","#5010c8","#2010b0","#0000a0","#102050","#40b030","#60d000","#f0f000","#ff9000","#ff1000","#f83030","#f07070","#f8a8a8","#fff0f0"], "interpolate": "rgb"}}}},
     {"data": {"values": [{}]}, "mark": {"type": "text", "text": ["GaP/InP","Stacking BB-II"], "font": "Liberation Serif", "fontSize": 15, "fontWeight": "bold", "color": "#1b1b50", "align": "left", "baseline": "top", "lineHeight": 16.5}, "encoding": {
       "x": {"datum": 614, "type": "quantitative", "scale": {"domain": [0,1400], "nice": false}, "axis": {"values": [0,100,200,300,400,500,600,700,800,900,1000,1100,1200,1300,1400], "format": "d", "labelOverlap": false, "labelExpr": "datum.value % 200 === 0 ? datum.label : ''"}, "title": "Wavelength (nm)"}, "y": {"datum": 9.35, "type": "quantitative", "axis": null}}},
     {"data": {"values": [{}]}, "mark": {"type": "text", "text": "(d)", "font": "Liberation Serif", "fontSize": 17, "fontWeight": "bold", "color": "#000", "align": "left", "baseline": "middle"}, "encoding": {
       "x": {"datum": -311, "type": "quantitative", "scale": {"domain": [0,1400], "nice": false}, "axis": {"values": [0,100,200,300,400,500,600,700,800,900,1000,1100,1200,1300,1400], "format": "d", "labelOverlap": false, "labelExpr": "datum.value % 200 === 0 ? datum.label : ''"}, "title": "Wavelength (nm)"}, "y": {"datum": 13.42, "type": "quantitative", "axis": null}}}
    ]}
   ],
   "resolve": {"scale": {"y": "independent"}}}
 ], "spacing": 1, "resolve": {"scale": {"fill": "independent"}, "legend": {"fill": "independent"}}},
 {"width": 181, "height": 203,
  "layer": [
   {"layer": [
    {"data": {"name": "inp"}, "mark": {"type": "area", "opacity": 0.55}, "encoding": {
      "x": {"field": "w", "type": "quantitative", "scale": {"domain": [0,1400], "nice": false}, "axis": {"values": [0,100,200,300,400,500,600,700,800,900,1000,1100,1200,1300,1400], "format": "d", "labelOverlap": false, "labelExpr": "datum.value % 200 === 0 ? datum.label : ''"}, "title": "Wavelength (nm)"},
      "y": {"field": "a", "type": "quantitative", "scale": {"domain": [0,14], "nice": false}, "axis": {"orient": "left", "values": [0,2,4,6,8,10,12,14], "labelOverlap": false}, "title": "Absorption  (10⁵ cm⁻¹)"},
      "fill": {"datum": "InP", "type": "nominal", "scale": {"domain": ["Solar Flux","GaP/InP","GaP","InP"], "range": ["#ffffff","#f29a9a","#a8d8b8","#e3ee7e"]},
       "legend": {"title": null, "orient": "none", "legendX": 102, "legendY": 8, "encoding": {"symbols": {"shape": {"value": {"expr": "datum.value === 'Solar Flux' ? 'M-1.9,0H1.9' : 'M-1.9,-0.85H1.9V0.85H-1.9Z'"}}, "stroke": {"value": {"expr": "datum.value === 'Solar Flux' ? '#e8574c' : indexof(datum.value, '/') >= 0 ? '#e0392b' : 'transparent'"}}, "strokeWidth": {"value": 1.5}}}}}}},
    {"data": {"name": "gap"}, "mark": {"type": "area", "opacity": 0.55}, "encoding": {
      "x": {"field": "w", "type": "quantitative", "scale": {"domain": [0,1400], "nice": false}, "axis": {"values": [0,100,200,300,400,500,600,700,800,900,1000,1100,1200,1300,1400], "format": "d", "labelOverlap": false, "labelExpr": "datum.value % 200 === 0 ? datum.label : ''"}, "title": "Wavelength (nm)"},
      "y": {"field": "a", "type": "quantitative", "scale": {"domain": [0,14], "nice": false}, "axis": {"orient": "left", "values": [0,2,4,6,8,10,12,14], "labelOverlap": false}, "title": "Absorption  (10⁵ cm⁻¹)"},
      "fill": {"datum": "GaP", "type": "nominal"}}},
    {"data": {"name": "pe"}, "mark": {"type": "area", "opacity": 0.55}, "encoding": {
      "x": {"field": "w", "type": "quantitative", "scale": {"domain": [0,1400], "nice": false}, "axis": {"values": [0,100,200,300,400,500,600,700,800,900,1000,1100,1200,1300,1400], "format": "d", "labelOverlap": false, "labelExpr": "datum.value % 200 === 0 ? datum.label : ''"}, "title": "Wavelength (nm)"},
      "y": {"field": "a", "type": "quantitative", "scale": {"domain": [0,14], "nice": false}, "axis": {"orient": "left", "values": [0,2,4,6,8,10,12,14], "labelOverlap": false}, "title": "Absorption  (10⁵ cm⁻¹)"},
      "fill": {"datum": "GaP/InP", "type": "nominal"}}}
   ]},
   {"data": {"name": "solar"}, "mark": {"type": "line", "color": "#a6a6a6", "strokeWidth": 1}, "encoding": {
     "x": {"field": "w", "type": "quantitative", "scale": {"domain": [0,1400], "nice": false}, "axis": {"values": [0,100,200,300,400,500,600,700,800,900,1000,1100,1200,1300,1400], "format": "d", "labelOverlap": false, "labelExpr": "datum.value % 200 === 0 ? datum.label : ''"}, "title": "Wavelength (nm)"},
     "y": {"field": "f", "type": "quantitative", "scale": {"domain": [0,3], "nice": false}, "axis": {"orient": "right", "values": [0,0.5,1,1.5,2,2.5,3], "format": ".1f", "labelOverlap": false}, "title": "Solar Spectrum (Wm⁻²nm⁻¹)"}}},
   {"layer": [
    {"data": {"name": "pe"}, "mark": {"type": "line", "color": "#e0392b", "strokeWidth": 1.6}, "encoding": {
      "x": {"field": "w", "type": "quantitative", "scale": {"domain": [0,1400], "nice": false}, "axis": {"values": [0,100,200,300,400,500,600,700,800,900,1000,1100,1200,1300,1400], "format": "d", "labelOverlap": false, "labelExpr": "datum.value % 200 === 0 ? datum.label : ''"}, "title": "Wavelength (nm)"},
      "y": {"field": "a", "type": "quantitative", "scale": {"domain": [0,14], "nice": false}, "axis": null}}},
    {"data": {"name": "rainbow"}, "mark": {"type": "rule", "strokeWidth": 1.6}, "encoding": {
      "x": {"field": "w", "type": "quantitative", "scale": {"domain": [0,1400], "nice": false}, "axis": {"values": [0,100,200,300,400,500,600,700,800,900,1000,1100,1200,1300,1400], "format": "d", "labelOverlap": false, "labelExpr": "datum.value % 200 === 0 ? datum.label : ''"}, "title": "Wavelength (nm)"},
      "y": {"datum": 13.4, "type": "quantitative", "axis": null},
      "y2": {"datum": 14},
      "color": {"field": "w", "type": "quantitative", "legend": null, "scale": {"domain": [0,90,142,219,271,400,554,619,645,670,709,760,807,851,941,1070,1199,1400], "range": ["#f8f4f8","#e8d0e8","#d0a0d0","#b060c0","#8020c0","#5010c8","#2010b0","#0000a0","#102050","#40b030","#60d000","#f0f000","#ff9000","#ff1000","#f83030","#f07070","#f8a8a8","#fff0f0"], "interpolate": "rgb"}}}},
    {"data": {"values": [{}]}, "mark": {"type": "text", "text": ["GaP/InP","Stacking BB-V"], "font": "Liberation Serif", "fontSize": 15, "fontWeight": "bold", "color": "#1b1b50", "align": "left", "baseline": "top", "lineHeight": 16.5}, "encoding": {
      "x": {"datum": 614, "type": "quantitative", "scale": {"domain": [0,1400], "nice": false}, "axis": {"values": [0,100,200,300,400,500,600,700,800,900,1000,1100,1200,1300,1400], "format": "d", "labelOverlap": false, "labelExpr": "datum.value % 200 === 0 ? datum.label : ''"}, "title": "Wavelength (nm)"}, "y": {"datum": 9.35, "type": "quantitative", "axis": null}}},
    {"data": {"values": [{}]}, "mark": {"type": "text", "text": "(e)", "font": "Liberation Serif", "fontSize": 17, "fontWeight": "bold", "color": "#000", "align": "left", "baseline": "middle"}, "encoding": {
      "x": {"datum": -311, "type": "quantitative", "scale": {"domain": [0,1400], "nice": false}, "axis": {"values": [0,100,200,300,400,500,600,700,800,900,1000,1100,1200,1300,1400], "format": "d", "labelOverlap": false, "labelExpr": "datum.value % 200 === 0 ? datum.label : ''"}, "title": "Wavelength (nm)"}, "y": {"datum": 13.42, "type": "quantitative", "axis": null}}}
   ]}
  ],
  "resolve": {"scale": {"y": "independent"}}}
],
"spacing": 1,
"center": true,
"resolve": {"scale": {"fill": "independent"}, "legend": {"fill": "independent"}}
}
